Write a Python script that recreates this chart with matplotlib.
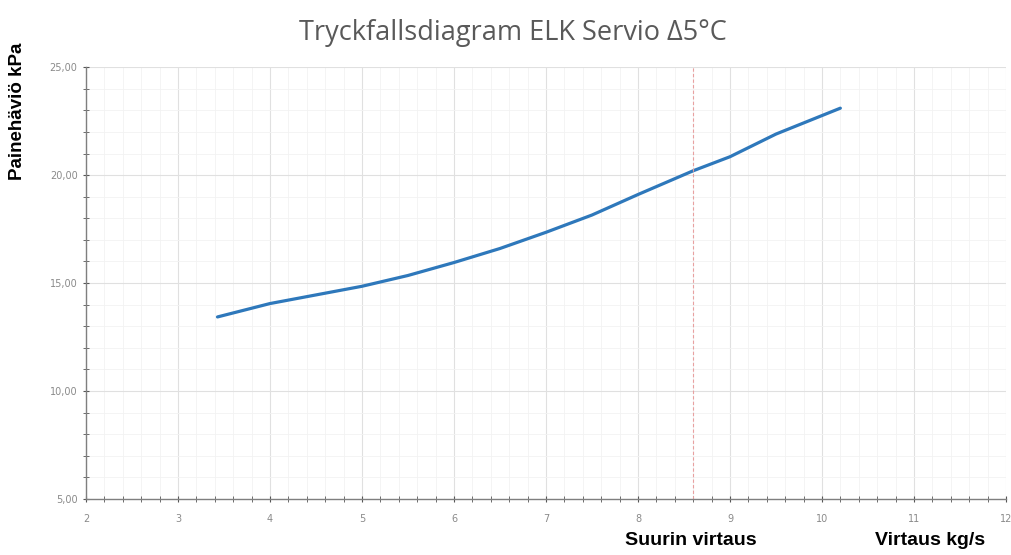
import numpy as np
import matplotlib
matplotlib.use('Agg')
import matplotlib.pyplot as plt
from matplotlib.ticker import MultipleLocator, FuncFormatter

# flow kg/s and pressure drop kPa
flow = [3.43, 4.0, 4.5, 5.0, 5.5, 6.0, 6.5, 7.0, 7.5, 8.0, 8.6, 9.0, 9.5, 10.2]
dp = [13.43, 14.05, 14.45, 14.85, 15.35, 15.95, 16.6, 17.35, 18.15, 19.1, 20.2, 20.85, 21.9, 23.1]
max_flow = 8.6

fig = plt.figure(figsize=(10.11, 5.55), dpi=100)
ax = fig.add_axes([0.085, 0.101, 0.91, 0.778])

ax.plot(flow, dp, color='#2e78bb', lw=2.3, solid_capstyle='round')
ax.axvline(max_flow, color='#e8a0a0', lw=0.8, ls=(0, (3, 2)))

ax.set_xlim(2, 12)
ax.set_ylim(5, 25)
ax.xaxis.set_major_locator(MultipleLocator(1))
ax.xaxis.set_minor_locator(MultipleLocator(0.2))
ax.yaxis.set_major_locator(MultipleLocator(5))
ax.yaxis.set_minor_locator(MultipleLocator(1))
ax.yaxis.set_major_formatter(FuncFormatter(lambda v, p: ('%.2f' % v).replace('.', ',')))

ax.grid(which='major', color='#e0e0e0', lw=0.8)
ax.grid(which='minor', color='#f2f2f2', lw=0.6)
ax.set_axisbelow(True)

for s in ['top', 'right']:
    ax.spines[s].set_visible(False)
for s in ['left', 'bottom']:
    ax.spines[s].set_color('#7f7f7f')
    ax.spines[s].set_linewidth(1.0)

ax.tick_params(which='both', direction='inout', colors='#555555', labelcolor='#8a8a8a',
               labelsize=7)
ax.tick_params(which='major', length=5)
ax.tick_params(which='minor', length=4)
ax.tick_params(axis='x', pad=8)

fig.text(0.507, 0.94, 'Tryckfallsdiagram ELK Servio Δ5°C', ha='center', va='center',
         fontsize=19.5, color='#595959', family='Open Sans')
fig.text(0.017, 0.80, 'Painehäviö kPa', rotation=90, ha='center', va='center',
         fontsize=13.5, color='black', family='Liberation Sans', weight='bold')
fig.text(0.683, 0.027, 'Suurin virtaus', ha='center', va='center',
         fontsize=14, color='black', family='Liberation Sans', weight='bold')
fig.text(0.92, 0.027, 'Virtaus kg/s', ha='center', va='center',
         fontsize=14, color='black', family='Liberation Sans', weight='bold')

fig.savefig('out.png', dpi=100)
